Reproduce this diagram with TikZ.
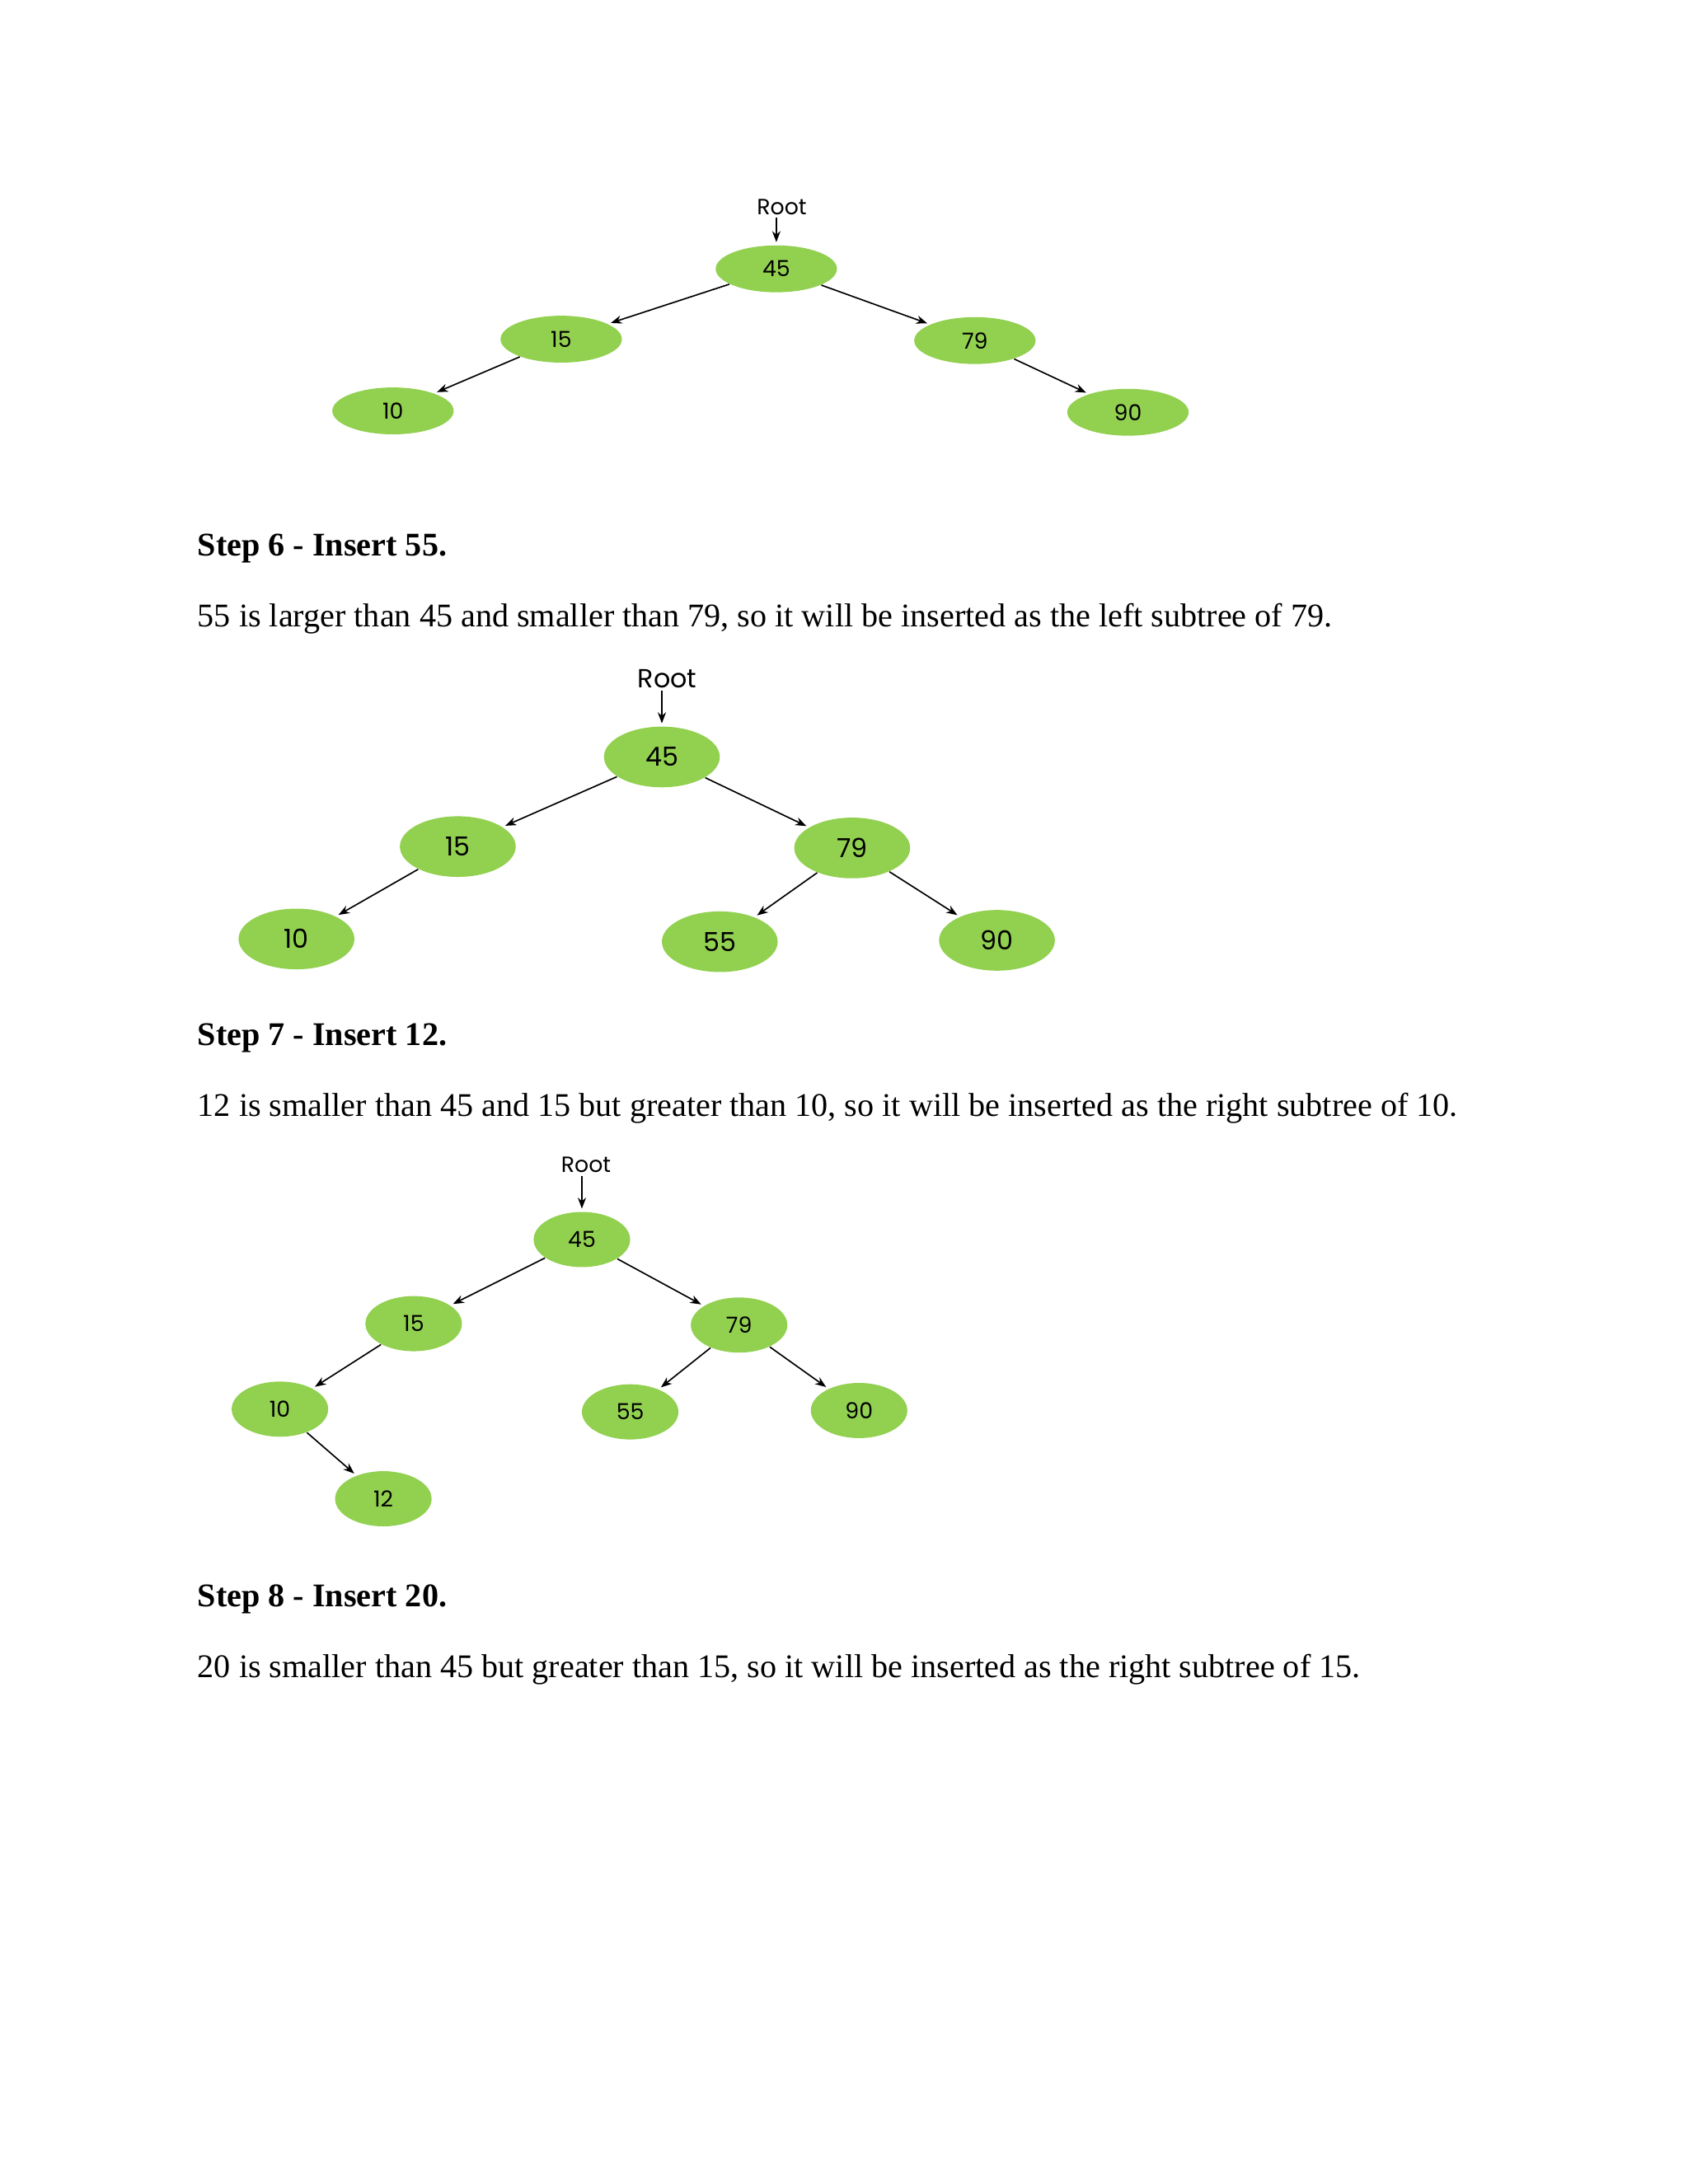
\documentclass[tikz,border=0pt]{standalone}
\usepackage{fontspec}
\setmainfont{Liberation Serif}
\newfontfamily\nodefont{Poppins}
\usetikzlibrary{arrows.meta,shapes.geometric}
\begin{document}
\begin{tikzpicture}[x=0.5pt,y=-0.5pt,
 nodeA/.style={ellipse,fill=nodegreen,minimum width=44pt,minimum height=17pt,inner sep=0pt,font=\nodefont\fontsize{8}{10}\selectfont},
 nodeB/.style={ellipse,fill=nodegreen,minimum width=42pt,minimum height=22pt,inner sep=0pt,font=\nodefont\fontsize{9.5}{12}\selectfont},
 nodeC/.style={ellipse,fill=nodegreen,minimum width=35pt,minimum height=20pt,inner sep=0pt,font=\nodefont\fontsize{8}{10}\selectfont},
 rootlbl/.style={font=\nodefont\fontsize{8}{10}\selectfont,inner sep=1pt},
 edge/.style={-{Stealth[length=4pt,width=3pt]},line width=0.5pt,shorten >=1pt},
 body/.style={anchor=west,font=\fontsize{12}{14}\selectfont,inner sep=0pt},
 head/.style={anchor=west,font=\bfseries\fontsize{12}{14}\selectfont,inner sep=0pt}]
\definecolor{nodegreen}{RGB}{146,208,80}
\useasboundingbox (0,0) rectangle (1224,1584);
% tree 1
\node[rootlbl] (r1) at (567,150) {Root};
\node[nodeA] (a45) at (563,195) {45};
\node[nodeA] (a15) at (407,246) {15};
\node[nodeA] (a79) at (707,247) {79};
\node[nodeA] (a10) at (285,298) {10};
\node[nodeA] (a90) at (818,299) {90};
\draw[edge] (r1.south -| a45) -- (a45);
\draw[edge] (a45) -- (a15);
\draw[edge] (a45) -- (a79);
\draw[edge] (a15) -- (a10);
\draw[edge] (a79) -- (a90);
\node[head] (h6) at (143,398) {Step 6 - Insert 55.};
\node[body] (b6) at (143,449) {55 is larger than 45 and smaller than 79, so it will be inserted as the left subtree of 79.};
% tree 2
\node[rootlbl,font=\nodefont\fontsize{9.5}{12}\selectfont] (r2) at (484,492) {Root};
\node[nodeB] (b45) at (480,549) {45};
\node[nodeB] (b15) at (332,614) {15};
\node[nodeB] (b79) at (618,615) {79};
\node[nodeB] (b10) at (215,681) {10};
\node[nodeB] (b55) at (522,683) {55};
\node[nodeB] (b90) at (723,682) {90};
\draw[edge] (r2.south -| b45) -- (b45);
\draw[edge] (b45) -- (b15);
\draw[edge] (b45) -- (b79);
\draw[edge] (b15) -- (b10);
\draw[edge] (b79) -- (b55);
\draw[edge] (b79) -- (b90);
\node[head] (h7) at (143,753) {Step 7 - Insert 12.};
\node[body] (b7) at (143,804) {12 is smaller than 45 and 15 but greater than 10, so it will be inserted as the right subtree of 10.};
% tree 3
\node[rootlbl] (r3) at (425,845) {Root};
\node[nodeC] (c45) at (422,899) {45};
\node[nodeC] (c15) at (300,960) {15};
\node[nodeC] (c79) at (536,961) {79};
\node[nodeC] (c10) at (203,1022) {10};
\node[nodeC] (c55) at (457,1024) {55};
\node[nodeC] (c90) at (623,1023) {90};
\node[nodeC] (c12) at (278,1087) {12};
\draw[edge] (r3.south -| c45) -- (c45);
\draw[edge] (c45) -- (c15);
\draw[edge] (c45) -- (c79);
\draw[edge] (c15) -- (c10);
\draw[edge] (c79) -- (c55);
\draw[edge] (c79) -- (c90);
\draw[edge] (c10) -- (c12);
\node[head] (h8) at (143,1160) {Step 8 - Insert 20.};
\node[body] (b8) at (143,1211) {20 is smaller than 45 but greater than 15, so it will be inserted as the right subtree of 15.};
\end{tikzpicture}
\end{document}
